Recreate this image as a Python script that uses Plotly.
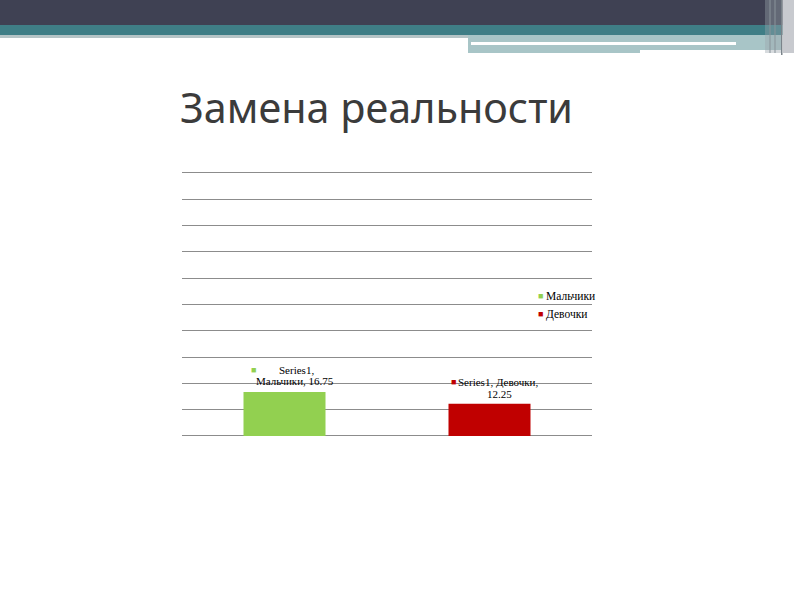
import plotly.graph_objects as go

# ---- data ----
series_name = "Series1"
categories = ["Мальчики", "Девочки"]
values = [16.75, 12.25]
colors = ["#92d050", "#c00000"]
value_labels = ["16.75", "12.25"]
y_max = 100
y_step = 10
title_text = "Замена реальности"

W, H = 794, 595
def px_x(p):
    return p / W
def px_y(p):
    return 1 - p / H

fig = go.Figure()
for cat, val, col in zip(categories, values, colors):
    fig.add_trace(go.Bar(
        x=[cat], y=[val], name=cat, marker=dict(color=col, line=dict(width=0)),
        width=0.4, showlegend=False, hoverinfo="skip"))

serif = "Liberation Serif"
lab_font = dict(family=serif, size=11, color="#000000")

annotations = []
# data labels: (line1, line2) per bar with pixel offsets from the bar top centre
label_lines = [
    (f"{series_name},", f"{categories[0]}, {value_labels[0]}"),
    (f"{series_name}, {categories[1]},", f"{value_labels[1]}"),
]
label_offsets = [
    # (square dx, square dy, line1 dx, line1 dy, line2 dx, line2 dy)
    (-31.5, 22, 12, 22, 10.5, 10.5),
    (-36, 22, 9, 22, 9.5, 10),
]
for cat, val, col, (l1, l2), o in zip(categories, values, colors, label_lines, label_offsets):
    annotations.append(dict(x=cat, y=val, xref="x", yref="y", text="■", showarrow=False,
                            xanchor="center", yanchor="middle", xshift=o[0], yshift=o[1],
                            font=dict(family=serif, size=9, color=col)))
    annotations.append(dict(x=cat, y=val, xref="x", yref="y", text=l1, showarrow=False,
                            xanchor="center", yanchor="middle", xshift=o[2], yshift=o[3],
                            font=lab_font))
    annotations.append(dict(x=cat, y=val, xref="x", yref="y", text=l2, showarrow=False,
                            xanchor="center", yanchor="middle", xshift=o[4], yshift=o[5],
                            font=lab_font))

# legend entries
legend_y = [296, 314]
for cat, col, ly in zip(categories, colors, legend_y):
    annotations.append(dict(x=px_x(540), y=px_y(ly), xref="paper", yref="paper", text="■",
                            showarrow=False, xanchor="center", yanchor="middle",
                            font=dict(family=serif, size=9, color=col)))
    annotations.append(dict(x=px_x(544), y=px_y(ly), xref="paper", yref="paper", text=cat,
                            showarrow=False, xanchor="left", yanchor="middle",
                            font=dict(family=serif, size=11.5, color="#000000")))

annotations.append(dict(
    x=px_x(178), y=px_y(107), xref="paper", yref="paper", text=title_text,
    showarrow=False, xanchor="left", yanchor="middle",
    font=dict(family="Noto Sans", size=41.3, color="#3b3b3b")))

def rect(x0, x1, y0, y1, color, opacity=1):
    return dict(type="rect", xref="paper", yref="paper", x0=px_x(x0), x1=px_x(x1),
                y0=px_y(y1), y1=px_y(y0), fillcolor=color, line=dict(width=0),
                layer="below", opacity=opacity)

shapes = [
    rect(0, W, 0, 25, "#3f4153"),
    rect(0, W, 25, 35, "#3f7e86"),
    rect(0, 468, 35, 38, "#b5c4c6"),
    rect(468, 782, 35, 53, "#a8c5c7"),
    rect(471, 736, 42, 45, "#ffffff"),
    rect(640, 782, 50, 53, "#ffffff"),
    rect(765, 782, 0, 53, "#9aa6ad", 0.4),
    rect(769.5, 770.5, 0, 53, "#8a939a"),
    rect(774.5, 775.5, 0, 53, "#8a939a"),
    rect(781, 782.5, 0, 55, "#7a838a"),
    rect(782.5, W, 0, 53, "#c8cacf"),
]

# y range slightly above 100 so the top gridline is drawn
y_top = y_max + 0.5
px_per_unit = (436 - 173) / y_max
top_px = 436 - y_top * px_per_unit

fig.update_layout(
    width=W, height=H, margin=dict(l=0, r=0, t=0, b=0),
    paper_bgcolor="#ffffff", plot_bgcolor="rgba(0,0,0,0)",
    barmode="group", bargap=0.6,
    xaxis=dict(domain=[px_x(182), px_x(592)], showticklabels=False, ticks="",
               showgrid=False, zeroline=False, showline=False, fixedrange=True),
    yaxis=dict(domain=[px_y(436), px_y(top_px)], range=[0, y_top], dtick=y_step,
               showticklabels=False, ticks="", showgrid=True, gridcolor="#8c8c8c",
               gridwidth=1, zeroline=True, zerolinecolor="#8c8c8c", zerolinewidth=1,
               showline=False, fixedrange=True),
    annotations=annotations, shapes=shapes, showlegend=False,
)

fig.write_html("out.html", config={"displayModeBar": False},
               post_script="document.body.style.margin='0';document.body.style.overflow='hidden';")
